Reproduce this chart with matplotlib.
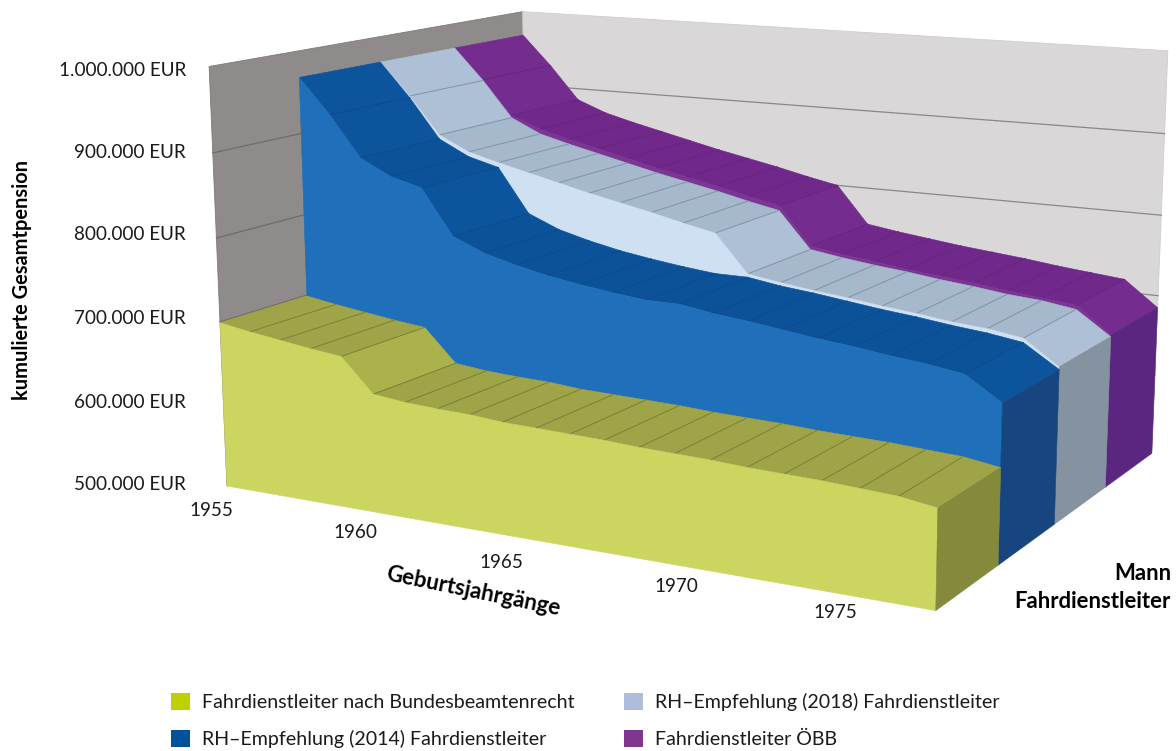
import numpy as np
import matplotlib
matplotlib.use('Agg')
import matplotlib.pyplot as plt
from matplotlib.patches import Polygon, Patch

plt.rcParams['font.family'] = ['Lato', 'DejaVu Sans']

# values in 1000 EUR
years = list(range(1955, 1977))
green = [699, 693, 688, 683, 679, 640, 636, 634, 633, 630, 629, 628, 627, 625, 624, 623, 621, 620, 619, 617, 615, 609]
blue = [968, 926, 877, 858, 848, 794, 778, 768, 760, 754, 749, 745, 745, 739, 735, 730, 725, 721, 716, 712, 706, 680]
grey = [968, 928, 882, 864, 854, 845, 836, 827, 819, 811, 802, 794, 749, 743, 738, 734, 729, 725, 720, 717, 711, 683]
purple = [968, 929, 885, 870, 860, 851, 842, 833, 825, 817, 808, 800, 753, 747, 742, 737, 733, 729, 724, 720, 716, 685]

value_ticks = [500, 600, 700, 800, 900, 1000]
value_labels = ['500.000 EUR', '600.000 EUR', '700.000 EUR', '800.000 EUR', '900.000 EUR', '1.000.000 EUR']
year_ticks = [1955, 1960, 1965, 1970, 1975]
legend_names = ['Fahrdienstleiter nach Bundesbeamtenrecht', 'RH\u2013Empfehlung (2014) Fahrdienstleiter',
                'RH\u2013Empfehlung (2018) Fahrdienstleiter', 'Fahrdienstleiter \u00d6BB']
legend_colors = ['#bfd000', '#00529b', '#b0bcdc', '#7f368f']

# camera: fit a projective matrix to where the frame corners sit on the canvas
frame = [((0, 0, 0), (227, 487)), ((0, 0, 1), (209, 66)), ((1, 0, 0), (935, 612)), ((1, 1, 0), (1152, 453)),
         ((0, 1, 1), (522, 12)), ((1, 1, 1), (1168, 51)), ((1, .25, 0), (998, 565)), ((1, .5, 0), (1054, 523)),
         ((1, .75, 0), (1106, 487)), ((0, 0, .8), (213, 153)), ((0, 0, .6), (217, 237)), ((1, 1, .8), (1165, 134)),
         ((1, 1, .6), (1161, 215)), ((1, 1, .4), (1158, 296))]
A = []
b = []
for (X, Y, Z), (u, v) in frame:
    A.append([X, Y, Z, 1, 0, 0, 0, 0, -u * X, -u * Y, -u * Z])
    b.append(u)
    A.append([0, 0, 0, 0, X, Y, Z, 1, -v * X, -v * Y, -v * Z])
    b.append(v)
P = np.append(np.linalg.lstsq(np.array(A, float), np.array(b, float), rcond=None)[0], 1).reshape(3, 4)


def project(year, depth, value):
    q = P @ np.array([(year - years[0]) / (years[-1] - years[0]), depth, (value - 500) / 500, 1])
    return q[0] / q[2], q[1] / q[2]


fig = plt.figure(figsize=(11.76, 7.51), dpi=100)
ax = fig.add_axes([0, 0, 1, 1])
ax.set_xlim(0, 1176)
ax.set_ylim(751, 0)
ax.axis('off')

layer = [1]


def face(pts, color, edge=None, lw=0.4):
    layer[0] += 1
    ax.add_patch(Polygon([project(*p) for p in pts], closed=True, facecolor=color, edgecolor=edge or color,
                         linewidth=lw, joinstyle='round', zorder=layer[0]))


def edge_line(p0, p1, color, lw):
    layer[0] += 1
    ax.plot(*zip(project(*p0), project(*p1)), color=color, lw=lw, zorder=layer[0])


# walls and gridlines
y0, y1 = years[0], years[-1]
face([(y0, 0, 500), (y0, 0, 1000), (y0, 1, 1000), (y0, 1, 500)], '#8f8b8a', '#7d7a79', 0.6)
face([(y0, 1, 500), (y0, 1, 1000), (y1, 1, 1000), (y1, 1, 500)], '#dad7d8', '#cfcccd', 0.6)
for val in value_ticks[1:-1]:
    edge_line((y0, 0, val), (y0, 1, val), '#6f6c6c', 0.9)
    edge_line((y0, 1, val), (y1, 1, val), '#8a8788', 0.9)

series = [
    (purple, 0.75, 1.00, '#7b3593', '#70288a', '#742c8e', '#5b2680', '#64267f'),
    (grey, 0.50, 0.75, '#cfe0f3', '#a6b8cc', '#adc0d6', '#84939f', '#8494a6'),
    (blue, 0.25, 0.50, '#1f6fbb', '#0c5299', '#0c559d', '#17457f', '#0b4a8c'),
    (green, 0.00, 0.25, '#cbd55f', '#a0a448', '#abb24c', '#85893c', '#7c8034'),
]
for vals, d0, d1, c_front, c_top, c_drop, c_side, c_line in series:
    for i in range(len(years) - 1):
        col = c_drop if vals[i] - vals[i + 1] > 20 else c_top
        face([(years[i], d0, vals[i]), (years[i + 1], d0, vals[i + 1]),
              (years[i + 1], d1, vals[i + 1]), (years[i], d1, vals[i])], col)
    for i in range(1, len(years) - 1):
        edge_line((years[i], d0, vals[i]), (years[i], d1, vals[i]), c_line, 0.7)
    front = [(yr, d0, v) for yr, v in zip(years, vals)] + [(y1, d0, 500), (y0, d0, 500)]
    face(front, c_front)
    face([(y1, d0, 500), (y1, d1, 500), (y1, d1, vals[-1]), (y1, d0, vals[-1])], c_side)

# axis text
txt = dict(color='#1a1a1a', fontsize=13.6)
for val, lab, ypx in zip(value_ticks, value_labels, [485, 402, 318, 235, 153, 70]):
    ax.text(186, ypx, lab, ha='right', va='center', **txt)
for yr, xpx, ypx in zip(year_ticks, [211, 355, 501, 676, 835], [511, 532, 562, 587, 613]):
    ax.text(xpx, ypx, str(yr), ha='center', va='center', **txt)
ax.text(22, 280, 'kumulierte Gesamtpension', rotation=90, ha='center', va='center',
        fontweight='bold', fontsize=14.4, color='black')
ax.text(473, 591, 'Geburtsjahrg\u00e4nge', rotation=-11.5, rotation_mode='anchor', ha='center', va='center',
        fontweight='bold', fontsize=16, color='black')
ax.text(1171, 574, 'Mann', ha='right', va='center', fontweight='bold', fontsize=15.9, color='black')
ax.text(1171, 601, 'Fahrdienstleiter', ha='right', va='center', fontweight='bold', fontsize=15.9, color='black')

handles = [Patch(facecolor=c, edgecolor='none', label=n) for c, n in zip(legend_colors, legend_names)]
ax.legend(handles=handles, ncol=2, frameon=False, fontsize=14.1, loc='lower left',
          bbox_to_anchor=(171 / 1176, 3 / 751), borderaxespad=0, borderpad=0, handlelength=0.97, handleheight=0.97,
          handletextpad=0.6, columnspacing=2.55, labelspacing=0.94, labelcolor='#1a1a1a')

fig.savefig('out.png', dpi=100)
